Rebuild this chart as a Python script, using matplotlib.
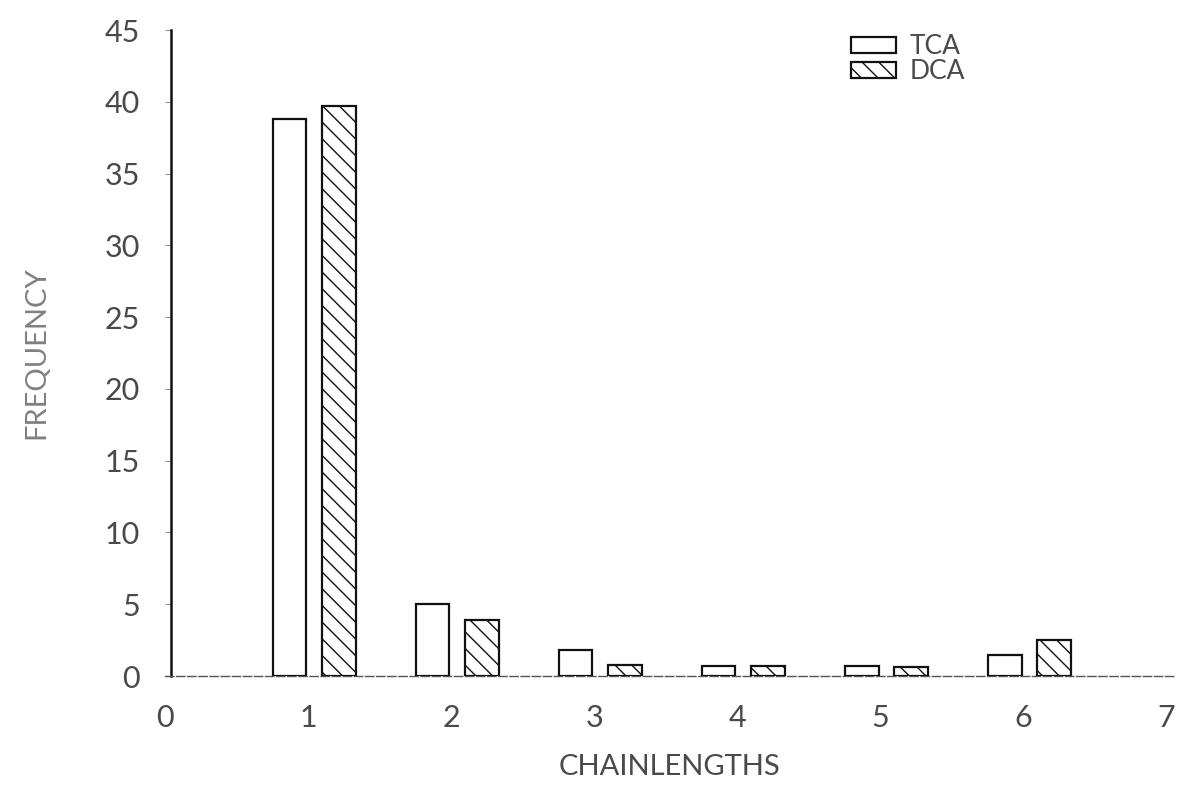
import matplotlib
matplotlib.use("Agg")
import matplotlib.pyplot as plt
import numpy as np

# Chain-length frequency distribution for the two compounds
chain_lengths = [1, 2, 3, 4, 5, 6]
tca_freq = [38.8, 5.0, 1.8, 0.7, 0.7, 1.45]
dca_freq = [39.7, 3.9, 0.75, 0.7, 0.6, 2.5]
x_ticks = [0, 1, 2, 3, 4, 5, 6, 7]

plt.rcParams['font.family'] = ['Lato', 'DejaVu Sans']
plt.rcParams['hatch.color'] = '#555555'
plt.rcParams['hatch.linewidth'] = 1.0

fig = plt.figure(figsize=(11.92, 7.9), dpi=100)
ax = fig.add_axes([165 / 1192, 1 - 676 / 790, 1010 / 1192, 646 / 790])

x = np.array(chain_lengths, dtype=float)
bar_w = 0.235
ax.bar(x - 0.13, tca_freq, width=bar_w, facecolor='white', edgecolor='#111111',
       linewidth=1.6, label='TCA', zorder=3)
ax.bar(x + 0.215, dca_freq, width=bar_w, facecolor='white', edgecolor='#111111',
       linewidth=1.6, hatch='\\\\', label='DCA', zorder=3)

ax.set_xlim(0, 7.06)
ax.set_ylim(0, 45)

for side in ['top', 'right']:
    ax.spines[side].set_visible(False)
ax.spines['left'].set_color('#111111')
ax.spines['left'].set_linewidth(1.8)
ax.spines['left'].set_position(('data', 0.04))
ax.spines['bottom'].set_color('#555555')
ax.spines['bottom'].set_linewidth(1.0)
ax.spines['bottom'].set_linestyle((0, (6, 2)))

txt_color = '#4a4a4a'
ax.set_yticks(range(0, 46, 5))
ax.set_yticklabels([str(v) for v in range(0, 46, 5)])
ax.set_xticks(x_ticks)
ax.set_xticklabels([str(v) for v in x_ticks])
ax.tick_params(axis='y', length=4, width=0.8, color='#999999', pad=18,
               labelsize=22, labelcolor=txt_color)
ax.tick_params(axis='x', length=0, pad=20, labelsize=22, labelcolor=txt_color)

ax.set_xlabel('CHAINLENGTHS', fontsize=21, color=txt_color, labelpad=16)
ax.set_ylabel('FREQUENCY', fontsize=21, color='#808080', labelpad=40)

leg = ax.legend(loc='upper left', bbox_to_anchor=(0.656, 1.03), frameon=False,
                fontsize=19, handlelength=1.7, handleheight=0.55,
                handletextpad=0.5, labelspacing=0.0)
for t in leg.get_texts():
    t.set_color(txt_color)

fig.savefig('out.png', dpi=100, facecolor='white')
